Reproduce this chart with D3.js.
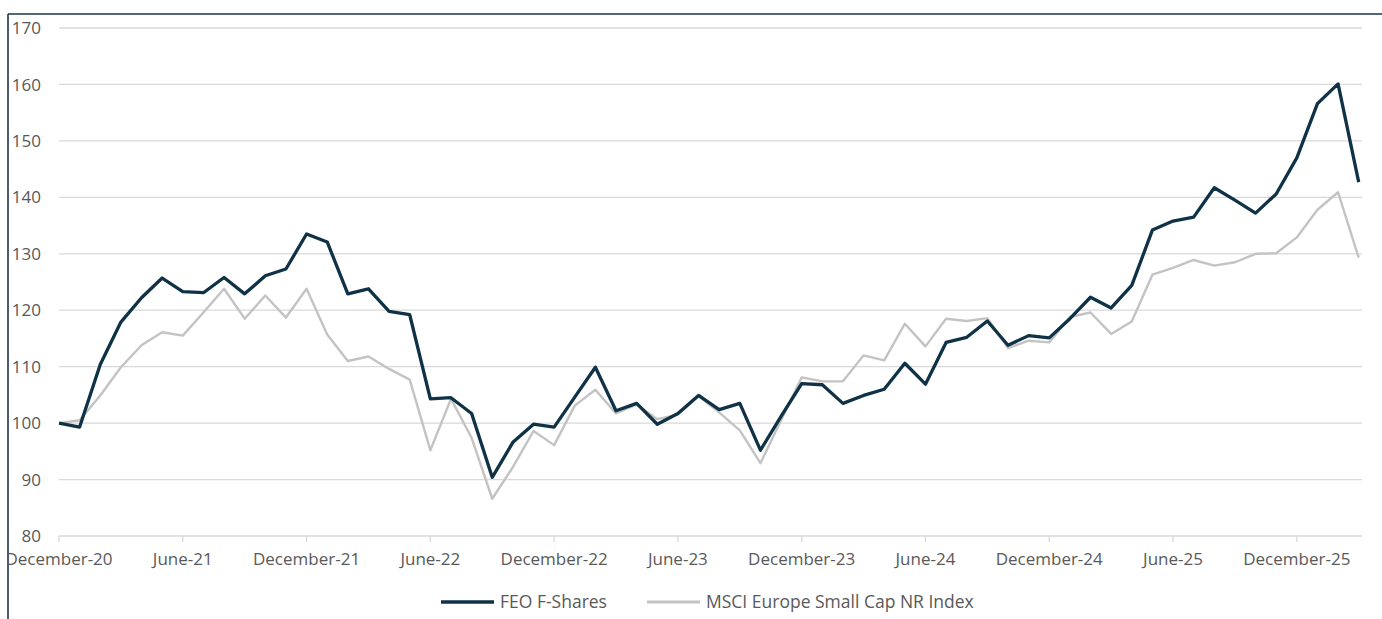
<!DOCTYPE html>
<html>
<head>
<meta charset="utf-8">
<script src="https://cdn.jsdelivr.net/npm/d3@7"></script>
<style>
  html, body { margin: 0; padding: 0; background: #ffffff; }
  svg { display: block; }
</style>
</head>
<body>
<svg id="chart" width="1382" height="619"></svg>
<script>
// ---- Data ----
const months = d3.timeMonth.range(new Date(2020, 11, 1), new Date(2026, 3, 1)); // Dec-20 .. Mar-26
const feo = [
  100.0, 99.3, 110.4, 117.9, 122.2, 125.7, 123.3, 123.1, 125.8, 122.9,
  126.1, 127.3, 133.5, 132.1, 122.9, 123.8, 119.8, 119.2, 104.3, 104.5,
  101.7, 90.4, 96.6, 99.8, 99.3, 104.6, 109.9, 102.2, 103.5, 99.8,
  101.7, 104.9, 102.4, 103.5, 95.2, 101.2, 107.0, 106.8, 103.5, 104.9,
  106.0, 110.6, 106.9, 114.3, 115.2, 118.1, 113.8, 115.5, 115.1, 118.5,
  122.3, 120.4, 124.4, 134.2, 135.8, 136.5, 141.7, 139.5, 137.2, 140.6,
  147.0, 156.6, 160.1, 142.7
];
const msci = [
  100.0, 100.5, 104.9, 109.9, 113.8, 116.1, 115.5, 119.6, 123.8, 118.5,
  122.6, 118.7, 123.8, 115.7, 111.0, 111.8, 109.6, 107.7, 95.2, 104.3,
  97.4, 86.6, 92.2, 98.6, 96.1, 103.1, 105.9, 101.7, 103.3, 100.7,
  101.5, 104.8, 101.9, 98.7, 92.9, 100.5, 108.1, 107.4, 107.4, 112.0,
  111.1, 117.6, 113.6, 118.5, 118.1, 118.6, 113.3, 114.6, 114.3, 118.8,
  119.6, 115.8, 118.0, 126.3, 127.5, 128.9, 127.9, 128.5, 130.0, 130.1,
  132.9, 137.8, 140.9, 129.3
];
const seriesNames = ["FEO F-Shares", "MSCI Europe Small Cap NR Index"];
const yTicks = [80, 90, 100, 110, 120, 130, 140, 150, 160, 170];
const xTickIndex = [0, 6, 12, 18, 24, 30, 36, 42, 48, 54, 60];
const xTickLabels = ["December-20", "June-21", "December-21", "June-22", "December-22",
  "June-23", "December-23", "June-24", "December-24", "June-25", "December-25"];

// ---- Styles ----
const darkColor = "#0f3246";
const greyColor = "#c3c3c3";
const gridColor = "#d9d9d9";
const textColor = "#595959";
const frameColor = "#1c3349";
const fontFamily = "'Open Sans', 'Liberation Sans', sans-serif";

const svg = d3.select("#chart");

const x = d3.scaleLinear().domain([0, 63.16]).range([59, 1362]);
const y = d3.scaleLinear().domain([80, 170]).range([536, 28]);

svg.append("defs").append("clipPath").attr("id", "clip")
  .append("rect").attr("x", 9).attr("y", 15).attr("width", 1382).attr("height", 619);

const g = svg.append("g").attr("clip-path", "url(#clip)");

// gridlines
g.append("g").selectAll("line").data(yTicks).join("line")
  .attr("x1", x(0)).attr("x2", x(63.16))
  .attr("y1", d => y(d)).attr("y2", d => y(d))
  .attr("stroke", gridColor).attr("stroke-width", 1.3);

// y labels
g.append("g").selectAll("text").data(yTicks).join("text")
  .attr("x", 41).attr("y", d => y(d))
  .attr("dy", "0.36em")
  .attr("text-anchor", "end")
  .attr("font-family", fontFamily).attr("font-size", 17)
  .attr("fill", textColor)
  .text(d => d);

// x ticks
g.append("g").selectAll("line").data(xTickIndex).join("line")
  .attr("x1", d => x(d)).attr("x2", d => x(d))
  .attr("y1", y(80)).attr("y2", y(80) + 6)
  .attr("stroke", gridColor).attr("stroke-width", 1.3);

// x labels
g.append("g").selectAll("text").data(xTickIndex).join("text")
  .attr("x", d => x(d)).attr("y", 565)
  .attr("text-anchor", "middle")
  .attr("font-family", fontFamily).attr("font-size", 17)
  .attr("fill", textColor)
  .text((d, i) => xTickLabels[i]);

// lines
const line = d3.line().x((d, i) => x(i)).y(d => y(d));
g.append("path").datum(msci)
  .attr("d", line).attr("fill", "none")
  .attr("stroke", greyColor).attr("stroke-width", 2.4)
  .attr("stroke-linejoin", "round");
g.append("path").datum(feo)
  .attr("d", line).attr("fill", "none")
  .attr("stroke", darkColor).attr("stroke-width", 3.3)
  .attr("stroke-linejoin", "round");

// legend
const legend = svg.append("g");
const legendItems = [
  { name: seriesNames[0], color: darkColor, w: 3.3, x1: 441, x2: 494, tx: 500 },
  { name: seriesNames[1], color: greyColor, w: 2.8, x1: 647, x2: 700, tx: 706 }
];
legendItems.forEach(it => {
  legend.append("line")
    .attr("x1", it.x1).attr("x2", it.x2).attr("y1", 602).attr("y2", 602)
    .attr("stroke", it.color).attr("stroke-width", it.w);
  legend.append("text")
    .attr("x", it.tx).attr("y", 602)
    .attr("dy", "0.36em")
    .attr("font-family", fontFamily).attr("font-size", 17.5)
    .attr("fill", textColor)
    .text(it.name);
});

// frame (top and left borders)
svg.append("line").attr("x1", 8).attr("x2", 1382).attr("y1", 14).attr("y2", 14)
  .attr("stroke", frameColor).attr("stroke-width", 1.6);
svg.append("line").attr("x1", 8).attr("x2", 8).attr("y1", 14).attr("y2", 619)
  .attr("stroke", frameColor).attr("stroke-width", 1.6);
</script>
</body>
</html>
